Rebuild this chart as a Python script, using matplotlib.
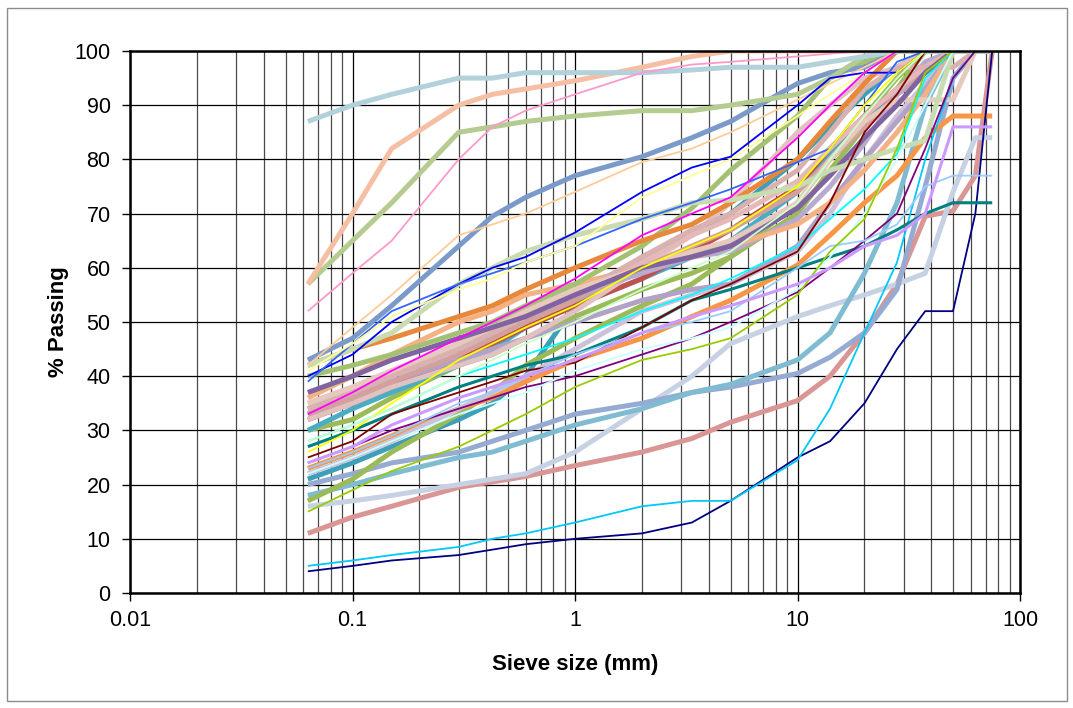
import numpy as np
import matplotlib.pyplot as plt
from matplotlib.patches import Rectangle
from matplotlib.ticker import FixedLocator, NullFormatter

plt.rcParams['font.family'] = ['Liberation Sans', 'DejaVu Sans']

# sieve sizes (mm) shared by every grading curve; None = not tested
sieve_mm = [0.063, 0.1, 0.15, 0.3, 0.425, 0.6, 1.0, 2.0, 3.35, 5.0,
            10, 14, 20, 28, 37.5, 50, 63, 75]

# --- thick curves (% passing) ---
t_lightblue = [87, 90, 92, 95, 95, 96, 96, 96, 96.5, 97, 97, 98, 99, 100, 100, 100, 100, 100]
t_peach = [57, 70, 82, 90, 92, 93, 94.5, 97, 99, 100, 100, 100, 100, 100, 100, 100, 100, 100]
t_sage = [57, 65, 72, 85, 86, 87, 88, 89, 89, 90, 92, 95, 99, 100, 100, 100, 100, 100]
t_steel = [43, 47, 53, 64, 69.5, 73, 77, 80.5, 84, 87, 94, 96, 97, 100, 100, 100, 100, 100]
t_palesage = [42, 45, 48, 57, 60, 63, 66, 69, 72, 72.5, 75, 78, 80, 82, 83.5, 100, 100, 100]
t_darkorange = [42, 45, 47, 51, 53, 56, 60, 65, 68, 72, 80, 87, 94, 100, 100, 100, 100, 100]
t_green = [40, 42, 44, 48, 50, 53, 57, 64, 71, 78, 88, 95, 98, 100, 100, 100, 100, 100]
t_purple = [37, 40, 43, 47, 49, 51, 55, 60, 62, 64, 71, 77, 84, 90, 96, 100, 100, 100]
t_pinktint = [35, 38, 41, 46, 49, 52, 56, 61, 66, 69, 76, 82, 88, 93, 97, 100, 100, 100]
t_rosy = [33, 36, 39, 44, 47, 50, 54, 60, 64, 67, 74, 80, 86, 92, 96, 100, 100, 100]
t_lavtint = [34, 37, 40, 45, 48, 51, 55, 59, 62, 63, 69, 75, 83, 92, 98, 100, 100, 100]
t_salmon = [36, 40, 44, 50, 52, 55, 57, 60, 62, 64, 68, 72, 78, 85, 92, 100, 100, 100]
t_brick = [32, 35, 38, 43, 46, 49, 53, 58, 63, 67, 75, 82, 88, 93, 97, 100, 100, 100]
t_aqua = [30, 34, 37, 42, 45, 49, 53, 58, 62, 65, 74, 81, 87, 92, 96, 100, 100, 100]
t_olive1 = [30, 32, 36, 42, 44, 47, 51, 56, 59, 62, 70, 78, 86, 93, 100, 100, 100, 100]
t_olive2 = [17, 21, 26, 33, 37, 42, 47, 53, 57, 62, 72, 80, 88, 95, 100, 100, 100, 100]
t_orange2 = [23, 26, 29, 34, 36, 39, 43, 47, 51, 54, 60.5, 66, 72, 77, 84, 88, 88, 88]
t_teal = [21, 24, 27, 32, 35, 40, 53, 62, 66, 70, 80, 86, 92, 97, 100, 100, 100, 100]
t_steel2 = [20, 22, 24, 26, 28, 30, 33, 35, 37, 38, 40.5, 43.5, 48, 56, 75, 95, 100, 100]
t_aqua2 = [18, 20, 22, 25, 26, 28, 31, 34, 37, 38.5, 43, 48, 59, 72, 90, 100, 100, 100]
t_grayblue = [16, 17, 18, 20, 21, 22, 26, 34, 40, 46, 51, 53, 55, 57, 59, 74, 84, 84]
t_rose = [11, 14, 16, 19.5, 20.5, 21.5, 23.5, 26, 28.5, 31.5, 35.5, 40, 48, 57, 69.5, 70.5, 77, 100]
t_palelav = [22, 25, 28, 34, 37, 40, 45, 52, 55, 57, 63, 70, 80, 88, 94, 100, 100, 100]
t_pinkbeige = [32, 35, 38, 42, 44, 47, 52, 60, 66, 72, 85, 90, 95, 97, 100, 100, 100, 100]
t_mauve = [33, 36, 39, 43, 45, 47, 50, 54, 56, 57, 64, 72, 80, 87, 93, 100, 100, 100]
t_pink97 = [34, 37, 40, 45, 48, 51, 55, 62, 67, 70, 78, 85, 93, 97, 97, 97, 100, 100]
t_beige91 = [35, 38, 41, 46, 49, 52, 56, 60, 63, 65, 72, 80, 87, 91, 91, 91, 100, 100]

# --- thin curves (% passing) ---
n_navy = [4, 5, 6, 7, 8, 9, 10, 11, 13, 17, 25, 28, 35, 45, 52, 52, 70, 100]
n_sky = [5, 6, 7, 8.5, 10, 11, 13, 16, 17, 17, 24.5, 34, 48, 61, 80, 95, 100, 100]
n_pink = [52, 59, 65, 80, 86, 89, 92, 96, 97.5, 98, 99, 99.5, 100, 100, 100, 100, 100, 100]
n_tan = [42, 49, 55, 66, 68, 70, 74, 79.5, 82, 85, 91, 94, 97, 100, 100, 100, 100, 100]
n_blue = [40, 44, 50, 57, 60, 62, 66.5, 74, 78.5, 80.5, 90, 95, 96, 96, 100, 100, 100, 100]
n_medblue = [39, 46, 52, 57, 59, 61, 64, 69, 72, 74.5, 79.5, 82, 90, 98, 100, 100, 100, 100]
n_ltyellow = [41, 46, 51, 56, 58, 61, 64, 73, 77, 80, 88, 92, 96, 100, 100, 100, 100, 100]
n_cyan = [28, 31, 34, 40, 42, 44, 47, 52, 55, 58, 64, 69, 74.5, 81, 95, 100, 100, 100]
n_teal = [27, 30, 33, 38, 40, 42, 44, 49, 54, 56, 60, 62, 64, 67, 70, 72, 72, 72]
n_yellow = [26, 30, 35, 43, 46, 49, 53, 60, 64, 67, 75, 82, 90, 96, 100, 100, 100, 100]
n_darkred = [25, 28, 33, 37, 39, 41, 42.5, 49, 54, 57, 63, 72, 85, 92, 100, 100, 100, 100]
n_purple = [24, 27, 30, 34, 36, 38, 40, 44, 47, 50, 55.5, 60, 65, 70, 82, 95, 100, 100]
n_ltcyan = [22, 25, 28, 33, 35, 37, 41, 45, 47, 49, 56, 62, 70, 80, 90, 100, 100, 100]
n_paleblue = [23, 26, 29, 35, 37, 40, 44, 48, 50, 52, 60, 64, 65, 68, 75, 77, 77, 77]
n_ygreen = [15, 19, 22.5, 27, 30, 33, 38, 43, 45, 47, 55, 63, 69, 82, 96, 100, 100, 100]
n_ltgreen = [28, 31, 34, 40, 43, 46, 50, 56, 60, 63, 72, 80, 88, 95, 100, 100, 100, 100]
n_magenta = [33, 37, 41, 47, 50, 53, 58, 66, 70, 73, 84, 90, 96, 100, 100, 100, 100, 100]
n_lavender = [24, 27, 31, 36, 38, 40, 43, 48, 51, 53, 57, 60, 64, 66, 70, 86, 86, 86]

thick_curves = [t_rose, t_grayblue, t_steel2, t_aqua2, t_teal, t_olive2, t_orange2,
                t_palelav, t_olive1, t_aqua, t_brick, t_mauve, t_pinkbeige, t_rosy,
                t_lavtint, t_pinktint, t_salmon, t_pink97, t_beige91, t_purple,
                t_green, t_darkorange, t_palesage, t_steel, t_sage, t_peach, t_lightblue]
thick_colors = ['#d99694', '#c6d1e3', '#95abd1', '#7fbcd2', '#3d9fb8', '#9bbb59', '#f79646',
                '#ccc1da', '#9bbb59', '#4bacc6', '#c0504d', '#b2a2c7', '#e2c2c0', '#d4a09e',
                '#b8a9cf', '#e6b9b8', '#f4b183', '#d9b2b0', '#e8c9bd', '#8064a2',
                '#a4c173', '#e8883a', '#c9dbb0', '#7b9ac9', '#b4cc8f', '#f6bfa3', '#b3d1db']

thin_curves = [n_navy, n_sky, n_pink, n_tan, n_blue, n_medblue, n_ltyellow, n_cyan,
               n_teal, n_yellow, n_darkred, n_purple, n_ltcyan, n_paleblue, n_ygreen,
               n_ltgreen, n_magenta, n_lavender]
thin_colors = ['#000080', '#00c8f8', '#ff99cc', '#ffcc99', '#0000ff', '#3366ff', '#ffff99',
               '#00ffff', '#008080', '#ffff00', '#800000', '#800080', '#ccffff', '#99ccff',
               '#99cc00', '#ccffcc', '#ff00ff', '#cc99ff']
thin_widths = [1.3] * 8 + [2.2] + [1.3] * 8 + [2.2]

fig = plt.figure(figsize=(10.73, 7.08), dpi=100)
ax = fig.add_axes([130 / 1073, 1 - 593 / 708, 890 / 1073, 542 / 708])

x = np.array(sieve_mm)


def draw(values, color, lw):
    y = np.array([np.nan if v is None else v for v in values], dtype=float)
    ok = ~np.isnan(y)
    ax.plot(x[ok], y[ok], color=color, lw=lw, solid_capstyle='butt', zorder=3)


for vals, c in zip(thick_curves, thick_colors):
    draw(vals, c, 3.6)
for vals, c, w in zip(thin_curves, thin_colors, thin_widths):
    draw(vals, c, w)

ax.set_xscale('log')
ax.set_xlim(0.01, 100)
ax.set_ylim(0, 100)

ax.xaxis.set_major_locator(FixedLocator([0.01, 0.1, 1, 10, 100]))
ax.set_xticklabels(['0.01', '0.1', '1', '10', '100'])
minor = [m * 10.0 ** e for e in range(-2, 2) for m in range(2, 10)]
ax.xaxis.set_minor_locator(FixedLocator(minor))
ax.xaxis.set_minor_formatter(NullFormatter())
ax.set_yticks(np.arange(0, 101, 10))

ax.grid(which='major', color='black', lw=0.9)
ax.grid(which='minor', axis='x', color='#4a4a4a', lw=0.9)
ax.set_axisbelow(True)

ax.tick_params(axis='both', which='major', direction='out', length=6, width=1,
               labelsize=15.5, pad=6, colors='black')
ax.tick_params(axis='x', which='minor', length=0)
ax.tick_params(axis='y', pad=8)

for s in ax.spines.values():
    s.set_linewidth(1.8)
    s.set_color('black')
    s.set_zorder(5)

ax.set_xlabel('Sieve size (mm)', fontsize=16, fontweight='bold', labelpad=17)
ax.set_ylabel('% Passing', fontsize=16, fontweight='bold', labelpad=4)

fig.patches.append(Rectangle((7 / 1073, 1 - 701 / 708), 1060 / 1073, 693 / 708,
                             transform=fig.transFigure, fill=False,
                             edgecolor='#8c8c8c', lw=1))

fig.savefig('out.png', dpi=100)
